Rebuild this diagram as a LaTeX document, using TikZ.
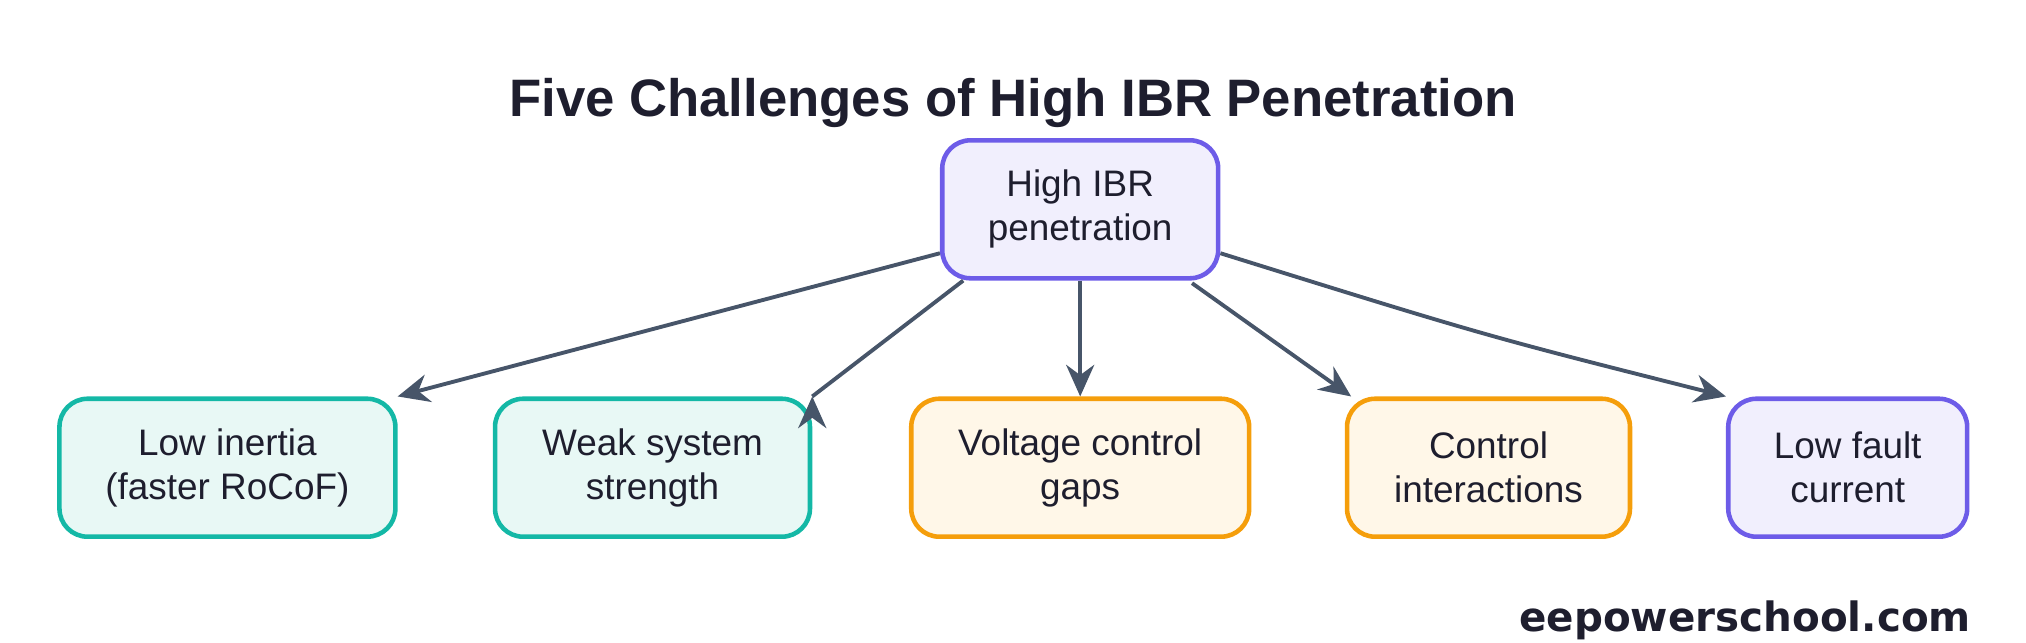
\documentclass[tikz,border=0pt]{standalone}
\usepackage{fontspec}
\setmainfont{Liberation Sans}
\newfontfamily\markfont{DejaVu Sans}
\usetikzlibrary{positioning,arrows.meta}
\definecolor{tealdraw}{HTML}{14B8A6}
\definecolor{tealfill}{HTML}{E8F8F5}
\definecolor{orangedraw}{HTML}{F59E0B}
\definecolor{orangefill}{HTML}{FFF7E8}
\definecolor{purpledraw}{HTML}{6D5CE8}
\definecolor{purplefill}{HTML}{F1EFFD}
\definecolor{arrowgray}{HTML}{475569}
\definecolor{titlecol}{HTML}{1E1E2E}
\begin{document}
\begin{tikzpicture}[x=0.01292cm,y=-0.01292cm,
    >={Stealth[length=9pt,width=8pt]},
    box/.style={rectangle,rounded corners=8pt,line width=1.3pt,align=center,
      font=\fontsize{10.5}{12.5}\selectfont,text=titlecol,
      minimum height=1.38cm,inner sep=2pt},
    teal box/.style={box,draw=tealdraw,fill=tealfill},
    orange box/.style={box,draw=orangedraw,fill=orangefill},
    purple box/.style={box,draw=purpledraw,fill=purplefill},
    link/.style={->,draw=arrowgray,line width=1.1pt}]

    % Frame
    \useasboundingbox (0,0) rectangle (1568,497.6);

    % Title
    \node[font=\bfseries\fontsize{15}{18}\selectfont,text=titlecol] (title) at (784,80)
      {Five Challenges of High IBR Penetration};

    % Nodes
    \node[purple box,minimum width=2.76cm] (ibr) at (836,162) {High IBR\\penetration};
    \node[teal box,minimum width=3.36cm] (inertia) at (176,362) {Low inertia\\(faster RoCoF)};
    \node[teal box,minimum width=3.15cm] (strength) at (505,362) {Weak system\\strength};
    \node[orange box,minimum width=3.38cm] (voltage) at (836,362) {Voltage control\\gaps};
    \node[orange box,minimum width=2.83cm] (control) at (1152,362) {Control\\interactions};
    \node[purple box,minimum width=2.39cm] (fault) at (1430,362) {Low fault\\current};

    % Connectors
    \draw[link] (ibr.west |- 0,196) -- (inertia.north east);
    \draw[link] (ibr.south west) ++(18,0) coordinate (s2) -- (strength.north east) ++(0,0);
    \draw[link] (ibr) -- (voltage);
    \draw[link] (ibr.south east) ++(-22,2) coordinate (s4) -- ([xshift=-80]control.north east);
    \draw[link] (ibr.east |- 0,196) .. controls (1150,260) .. (fault.north west);

    % Watermark
    \node[anchor=east,font=\markfont\bfseries\fontsize{11.5}{14}\selectfont,text=titlecol] (mark) at (1535,480) {eepowerschool.com};
\end{tikzpicture}
\end{document}
